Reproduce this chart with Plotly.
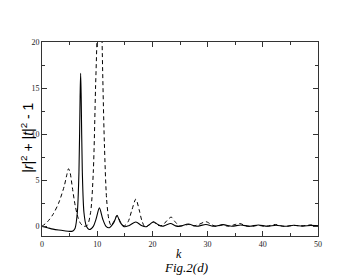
import plotly.graph_objects as go

# Solid curve (k, value)
k_solid = [0, 1, 2, 3, 4, 5, 5.6, 6.0, 6.4, 6.7, 6.9, 7.0, 7.1, 7.3, 7.6, 8.0, 8.6, 9.3, 9.8,
           10.4, 11.0, 11.6, 12.2, 13.0, 13.6, 14.2, 14.9, 15.8, 17.0, 18.0, 18.8, 19.5, 20.2,
           21.0, 21.8, 22.5, 23.3, 24.2, 25.0, 26.5, 28.0, 29.7, 31.2, 32.8, 34.4, 36.0, 37.6,
           39.2, 40.8, 42.4, 44.0, 45.6, 47.2, 48.7, 50]
y_solid = [0.0, -0.15, -0.3, -0.4, -0.48, -0.55, -0.5, -0.2, 1.5, 6.0, 14.0, 16.6, 14.0, 6.0,
           1.5, 0.1, -0.35, 0.0, 0.8, 2.0, 0.8, 0.0, -0.15, 0.4, 1.15, 0.4, -0.05, 0.1, 0.47,
           0.1, -0.05, 0.2, 0.5, 0.2, 0.0, 0.15, 0.3, 0.05, 0.0, 0.25, 0.0, 0.2, 0.0, 0.18, 0.0,
           0.15, 0.0, 0.15, 0.0, 0.12, 0.0, 0.12, 0.02, 0.1, 0.05]

# Dashed curve (k, value)
k_dash = [0, 1, 2, 3, 4, 4.5, 4.8, 5.1, 5.5, 6.0, 6.5, 7.0, 7.6, 8.2, 8.8, 9.3, 9.7, 9.96,
          10.4, 10.87, 11.3, 11.7, 12.1, 12.5, 13.0, 13.6, 14.2, 14.9, 15.6, 16.3, 17.0, 17.6,
          18.1, 18.7, 19.5, 20.2, 21.0, 21.8, 22.6, 23.4, 24.1, 24.9, 25.7, 26.6, 27.5, 28.4,
          29.7, 30.8, 31.6, 32.7, 33.8, 35.0, 35.9, 36.9, 38.0, 39.2, 40.4, 41.4, 42.3, 43.3,
          44.4, 45.6, 46.8, 48.0, 48.6, 50]
y_dash = [0.0, 0.5, 1.3, 2.5, 4.3, 5.6, 6.25, 5.8, 4.2, 2.3, 1.0, 0.3, 0.0, 0.1, 1.5, 6.0,
          15.0, 20.5, 40.0, 20.5, 9.0, 3.0, 0.8, 0.1, 0.5, 1.2, 0.5, 0.05, 0.5, 1.8, 2.95, 1.8,
          0.6, -0.1, 0.2, 0.45, 0.1, 0.1, 0.6, 1.0, 0.5, 0.05, 0.1, 0.2, 0.05, 0.2, 0.5, 0.15,
          0.0, 0.15, 0.0, 0.2, 0.3, 0.05, 0.0, 0.1, 0.0, 0.1, 0.2, 0.05, 0.0, 0.1, 0.05, 0.1,
          0.15, 0.05]

x_range = [0, 50]
y_range = [-1.05, 20]

fig = go.Figure()
fig.add_trace(go.Scatter(x=k_dash, y=y_dash, mode="lines",
                         line=dict(color="black", width=1, dash="4px,3px", shape="spline", smoothing=0.8)))
fig.add_trace(go.Scatter(x=k_solid, y=y_solid, mode="lines",
                         line=dict(color="black", width=1.1, shape="spline", smoothing=0.8)))

axis_common = dict(showline=True, linecolor="#333333", linewidth=1, mirror="ticks",
                   ticks="inside", ticklen=5, tickcolor="#333333", showgrid=False, zeroline=False,
                   tickfont=dict(family="Liberation Serif, Times New Roman, serif", size=8, color="#222222"))

# The page body has an 8px default margin, so the figure is 8px smaller and margins shifted.
fig.update_layout(
    width=350, height=269,
    margin=dict(l=33.5, r=40, t=33.7, b=41.3),
    paper_bgcolor="white", plot_bgcolor="white",
    showlegend=False,
    xaxis=dict(range=x_range, dtick=10, tick0=0,
               minor=dict(dtick=5, ticks="inside", ticklen=3, tickcolor="#333333"),
               **axis_common),
    yaxis=dict(range=y_range, dtick=5, tick0=0,
               minor=dict(dtick=2.5, ticks="inside", ticklen=3, tickcolor="#333333"),
               **axis_common),
)

fig.add_annotation(text="<i>k</i>", xref="paper", yref="paper", x=0.495, y=-0.093,
                   showarrow=False, font=dict(family="Liberation Serif, serif", size=12, color="black"),
                   yanchor="middle")
fig.add_annotation(text="<i>Fig.2(d)</i>", xref="paper", yref="paper", x=0.523, y=-0.16,
                   showarrow=False, font=dict(family="Liberation Serif, serif", size=13, color="black"),
                   yanchor="middle")
fig.add_annotation(text="|<i>r</i>|<sup>2</sup> + |<i>t</i>|<sup>2</sup> - 1", xref="paper", yref="paper",
                   x=-0.052, y=0.504, textangle=-90, showarrow=False,
                   font=dict(family="Liberation Sans, Arial, sans-serif", size=14, color="black"),
                   xanchor="center", yanchor="middle")

fig.write_html("out.html")
